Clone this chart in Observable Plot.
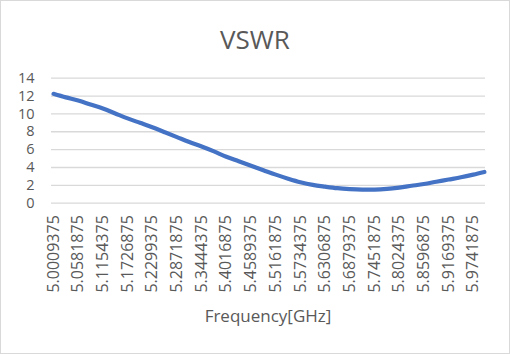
<!DOCTYPE html>
<html><head><meta charset="utf-8">
<script src="https://cdn.jsdelivr.net/npm/d3@7"></script>
<script src="https://cdn.jsdelivr.net/npm/@observablehq/plot@0.6"></script>
<style>
body{margin:0;background:#fff;}
#wrap{position:relative;width:510px;height:354px;overflow:hidden;font-family:"Open Sans",sans-serif;background:#fff;}
#border{position:absolute;left:0;top:0;width:510px;height:354px;box-sizing:border-box;border:1px solid #d9d9d9;pointer-events:none;}
#title{position:absolute;left:0;width:510px;top:25.7px;text-align:center;font-size:26px;line-height:26px;color:#595959;}
#xtitle{position:absolute;left:0;width:536px;top:306.5px;text-align:center;font-size:17px;line-height:17px;color:#595959;}
#chart{position:absolute;left:0;top:0;}
</style>
</head><body>
<div id="wrap">
  <div id="chart"></div>
  <div id="title">VSWR</div>
  <div id="xtitle">Frequency[GHz]</div>
  <div id="border"></div>
</div>
<script>
const freqs = [5.0009375,5.0295625,5.0581875,5.0868125,5.1154375,5.1440625,5.1726875,5.2013125,5.2299375,5.2585625,5.2871875,5.3158125,5.3444375,5.3730625,5.4016875,5.4303125,5.4589375,5.4875625,5.5161875,5.5448125,5.5734375,5.6020625,5.6306875,5.6593125,5.6879375,5.7165625,5.7451875,5.7738125,5.8024375,5.8310625,5.8596875,5.8883125,5.9169375,5.9455625,5.9741875,6.0];
const vswr = [12.25,11.85,11.5,11.05,10.6,10.05,9.5,9.0,8.5,7.95,7.4,6.85,6.35,5.8,5.2,4.7,4.2,3.7,3.2,2.75,2.35,2.05,1.85,1.68,1.58,1.52,1.52,1.6,1.75,1.95,2.15,2.4,2.65,2.9,3.2,3.5];
const xTickLabels = ["5.0009375","5.0581875","5.1154375","5.1726875","5.2299375","5.2871875","5.3444375","5.4016875","5.4589375","5.5161875","5.5734375","5.6306875","5.6879375","5.7451875","5.8024375","5.8596875","5.9169375","5.9741875"];
const yTicks = [0,2,4,6,8,10,12,14];

const data = freqs.map((f,i)=>({f, v: vswr[i]}));
const xTicks = xTickLabels.map(Number);

const chart = Plot.plot({
  width: 510, height: 354,
  marginLeft: 51, marginRight: 25, marginTop: 77.7, marginBottom: 151.3,
  style: {fontFamily: "'Open Sans', sans-serif", color: "#595959", background: "transparent"},
  x: {domain: [5.0009375, 6.0025], insetLeft: 2},
  y: {domain: [0, 14]},
  marks: [
    Plot.gridY(yTicks, {stroke: "#d9d9d9", strokeOpacity: 1, strokeWidth: 1.3}),
    Plot.axisY(yTicks, {tickSize: 0, tickPadding: 17, fontSize: 14.5, label: null}),
    Plot.axisX(xTicks, {tickSize: 0, tickRotate: -90, tickPadding: 12, fontSize: 16, label: null, tickFormat: d => xTickLabels[xTicks.indexOf(d)]}),
    Plot.line(data, {x: "f", y: "v", stroke: "#4472C4", strokeWidth: 4.2, curve: "catmull-rom"})
  ]
});
document.getElementById("chart").appendChild(chart);
</script>
</body></html>
